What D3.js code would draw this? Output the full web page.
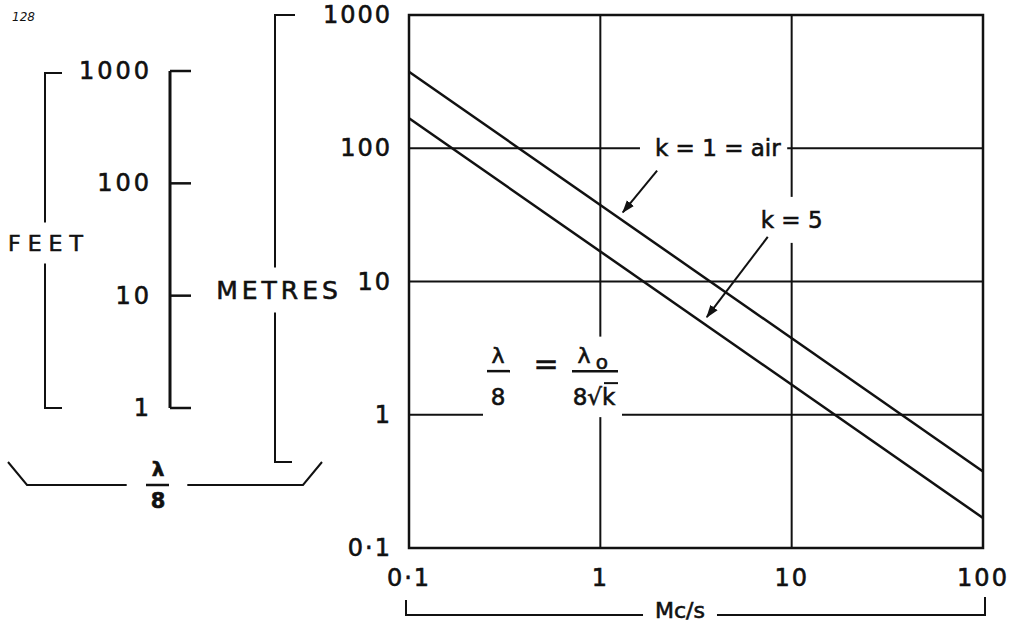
<!DOCTYPE html>
<html>
<head>
<meta charset="utf-8">
<script src="https://cdn.jsdelivr.net/npm/d3@7"></script>
<style>
  body { margin: 0; background: #fff; }
  svg { display: block; font-family: "DejaVu Sans", sans-serif; }
</style>
</head>
<body>
<div id="chart"></div>
<script>
// main chart: frequency (Mc/s) against lambda/8 (metres), both log
const freqDomain = [0.1, 100];
const lambdaDomain = [0.1, 1000];
const xTicks = [0.1, 1, 10, 100];
const xTickLabels = ['0·1', '1', '10', '100'];
const yTicks = [0.1, 1, 10, 100, 1000];
const yTickLabels = ['0·1', '1', '10', '100', '1000'];

// side ruler in feet
const feetDomain = [1, 1000];
const feetTicks = [1, 10, 100, 1000];
const feetTickLabels = ['1', '10', '100', '1000'];

// series (end points of the straight lines on log-log paper)
const seriesNames = ['k = 1 = air', 'k = 5'];
const seriesFreq = [0.1, 100];
const seriesAir = [375, 0.375];
const seriesK5 = [168, 0.168];

// annotation anchors in data units [freq, lambda/8]
const airLabelAt = [1.93, 100];
const airArrow = [[1.98, 68], [1.31, 33]];
const k5LabelAt = [10, 29];
const k5Arrow = [[7.5, 21.6], [3.6, 5.4]];
const formulaAt = [0.52, 2.44];

const W = 1012, H = 625;
const plot = { left: 409, top: 15, right: 983, bottom: 548 };
const ink = '#111';

const svg = d3.select('#chart').append('svg')
  .attr('width', W).attr('height', H);

svg.append('defs').append('marker')
  .attr('id', 'arrowhead')
  .attr('markerUnits', 'userSpaceOnUse')
  .attr('markerWidth', 14).attr('markerHeight', 10)
  .attr('refX', 12).attr('refY', 5)
  .attr('orient', 'auto')
  .append('path')
  .attr('d', 'M0,0.5 L13,5 L0,9.5 Z')
  .attr('fill', ink);

const x = d3.scaleLog().domain(freqDomain).range([plot.left, plot.right]);
const y = d3.scaleLog().domain(lambdaDomain).range([plot.bottom, plot.top]);
const yFt = d3.scaleLog().domain(feetDomain).range([408, 71]);

// layers so labels can knock gaps out of the grid
const gridH = svg.append('g');
const koH = svg.append('g');
const gridV = svg.append('g');
const koV = svg.append('g');
const frame = svg.append('g');
const lines = svg.append('g');
const koSide = svg.append('g');
const labels = svg.append('g');

function knock(layer, node, padL, padR, padT, padB) {
  const b = node.getBBox();
  layer.append('rect')
    .attr('x', b.x - padL).attr('y', b.y - padT)
    .attr('width', b.width + padL + padR)
    .attr('height', b.height + padT + padB)
    .attr('fill', '#fff');
}

function txt(parent, s, px, py, size, anchor) {
  return parent.append('text')
    .attr('x', px).attr('y', py)
    .attr('text-anchor', anchor || 'middle')
    .attr('dominant-baseline', 'central')
    .attr('font-size', size)
    .attr('fill', ink)
    .attr('stroke', ink)
    .attr('stroke-width', 0.6)
    .text(s);
}

// grid
gridH.selectAll('line').data(yTicks.slice(1, -1)).enter().append('line')
  .attr('x1', plot.left).attr('x2', plot.right)
  .attr('y1', d => y(d)).attr('y2', d => y(d))
  .attr('stroke', ink).attr('stroke-width', 2);
gridV.selectAll('line').data(xTicks.slice(1, -1)).enter().append('line')
  .attr('y1', plot.top).attr('y2', plot.bottom)
  .attr('x1', d => x(d)).attr('x2', d => x(d))
  .attr('stroke', ink).attr('stroke-width', 2);

frame.append('rect')
  .attr('x', plot.left).attr('y', plot.top)
  .attr('width', plot.right - plot.left).attr('height', plot.bottom - plot.top)
  .attr('fill', 'none').attr('stroke', ink).attr('stroke-width', 2.5);

// series lines
const line = d3.line().x(d => x(d[0])).y(d => y(d[1]));
[seriesAir, seriesK5].forEach(vals => {
  lines.append('path')
    .datum(seriesFreq.map((f, i) => [f, vals[i]]))
    .attr('d', line)
    .attr('fill', 'none').attr('stroke', ink).attr('stroke-width', 2.5);
});

// tick labels
yTicks.forEach((v, i) => {
  txt(labels, yTickLabels[i], plot.left - 17, y(v), 24, 'end').attr('letter-spacing', 2);
});
xTicks.forEach((v, i) => {
  txt(labels, xTickLabels[i], x(v), 578, 24).attr('letter-spacing', 2);
});

// series labels + arrows
const airLbl = txt(labels, seriesNames[0], x(airLabelAt[0]), y(airLabelAt[1]), 23, 'start');
knock(koH, airLbl.node(), 15, 6, 0, 0);
const k5Lbl = txt(labels, seriesNames[1], x(k5LabelAt[0]), y(k5LabelAt[1]), 23);
knock(koV, k5Lbl.node(), 4, 4, 10, 10);

[airArrow, k5Arrow].forEach(a => {
  lines.append('line')
    .attr('x1', x(a[0][0])).attr('y1', y(a[0][1]))
    .attr('x2', x(a[1][0])).attr('y2', y(a[1][1]))
    .attr('stroke', ink).attr('stroke-width', 2)
    .attr('marker-end', 'url(#arrowhead)');
});

// formula  lambda/8 = lambda_o / (8 sqrt k)
const fx = x(formulaAt[0]), fy = y(formulaAt[1]);
const formula = labels.append('g');
const fBar = fy + 8;
txt(formula, 'λ', fx - 48, fBar - 16, 22);
formula.append('line').attr('x1', fx - 59).attr('x2', fx - 36)
  .attr('y1', fBar).attr('y2', fBar).attr('stroke', ink).attr('stroke-width', 2.5);
txt(formula, '8', fx - 48, fBar + 26, 23);
txt(formula, '=', fx, fBar - 8, 30);
txt(formula, 'λ', fx + 38, fBar - 16, 22);
txt(formula, 'o', fx + 56, fBar - 9, 20);
formula.append('line').attr('x1', fx + 26).attr('x2', fx + 72)
  .attr('y1', fBar).attr('y2', fBar).attr('stroke', ink).attr('stroke-width', 2.5);
txt(formula, '8√k', fx + 48, fBar + 26, 23);
formula.append('line').attr('x1', fx + 58).attr('x2', fx + 72)
  .attr('y1', fBar + 12).attr('y2', fBar + 12).attr('stroke', ink).attr('stroke-width', 2);
knock(koV, formula.node(), 4, 4, 6, 7);

// Mc/s bracket under x axis
const mcY = 615;
koSide.append('path')
  .attr('d', `M${plot.left - 3},600 V${mcY} H${plot.right + 2} V597`)
  .attr('fill', 'none').attr('stroke', ink).attr('stroke-width', 2);
const mc = txt(labels, 'Mc/s', 680, mcY - 5, 22);
knock(koSide, mc.node(), 12, 12, 0, 0);

// feet ruler
const rulerX = 170;
koSide.append('line').attr('x1', rulerX).attr('x2', rulerX)
  .attr('y1', yFt(1000)).attr('y2', yFt(1))
  .attr('stroke', ink).attr('stroke-width', 3);
koSide.selectAll('.ftick').data(feetTicks).enter().append('line')
  .attr('x1', rulerX).attr('x2', rulerX + 21)
  .attr('y1', d => yFt(d)).attr('y2', d => yFt(d))
  .attr('stroke', ink).attr('stroke-width', 2.5);
feetTicks.forEach((v, i) => {
  txt(labels, feetTickLabels[i], 152, yFt(v), 24, 'end').attr('letter-spacing', 3);
});

// FEET bracket
koSide.append('path')
  .attr('d', `M62,${yFt(1000) + 2} H45 V${yFt(1)} H62`)
  .attr('fill', 'none').attr('stroke', ink).attr('stroke-width', 2);
const feet = txt(labels, 'FEET', 49, 243, 22).attr('letter-spacing', 7);
knock(koSide, feet.node(), 2, 2, 8, 8);

// METRES bracket
koSide.append('path')
  .attr('d', `M295,${plot.top} H275 V462 H292`)
  .attr('fill', 'none').attr('stroke', ink).attr('stroke-width', 2);
const metres = txt(labels, 'METRES', 279, 290, 25).attr('letter-spacing', 4);
knock(koSide, metres.node(), 0, 0, 8, 8);

// lambda/8 brace at bottom left
koSide.append('path')
  .attr('d', 'M8,462 L27,485 H303 L322,462')
  .attr('fill', 'none').attr('stroke', ink).attr('stroke-width', 2);
const brace = labels.append('g');
txt(brace, 'λ', 158, 469, 20).attr('font-weight', 'bold');
txt(brace, '8', 158, 501, 21).attr('font-weight', 'bold');
knock(koSide, brace.node(), 24, 22, 0, 0);
brace.append('line').attr('x1', 146).attr('x2', 169)
  .attr('y1', 485).attr('y2', 485).attr('stroke', ink).attr('stroke-width', 2.5);

// page number
labels.append('text').attr('x', 12).attr('y', 21)
  .attr('font-size', 12).attr('font-style', 'italic').attr('fill', ink)
  .text('128');
</script>
</body>
</html>
